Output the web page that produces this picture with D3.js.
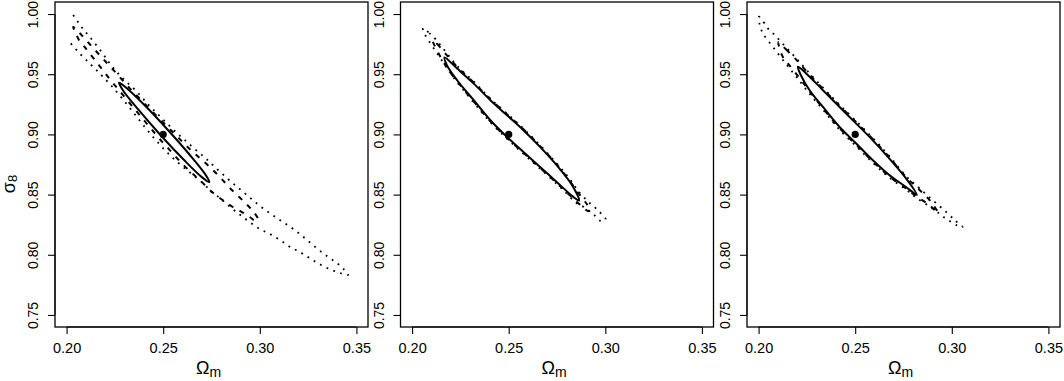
<!DOCTYPE html>
<html>
<head>
<meta charset="utf-8">
<script src="https://cdn.jsdelivr.net/npm/d3@7"></script>
<style>
  body { margin: 0; background: #fff; }
  #canvas text { font-family: "Liberation Sans", Arial, Helvetica, sans-serif; fill: #000; }
</style>
</head>
<body>
<div id="canvas"></div>
<script>
var xTicks = [0.20, 0.25, 0.30, 0.35];
var yTicks = [0.75, 0.80, 0.85, 0.90, 0.95, 1.00];
var fiducial = [0.25, 0.90]; // [Omega_m, sigma_8]

// contour outlines, [Omega_m, sigma_8]
// panel 1
var p1Solid = [
  [0.2739, 0.8603], [0.2717, 0.8670], [0.2637, 0.8831], [0.2522, 0.9041],
  [0.2403, 0.9244], [0.2310, 0.9386], [0.2271, 0.9429], [0.2294, 0.9361],
  [0.2374, 0.9201], [0.2488, 0.8991], [0.2608, 0.8787], [0.2700, 0.8645]
];
var p1Dashed = [
  [0.2034, 0.9892], [0.2067, 0.9842], [0.2119, 0.9751], [0.2171, 0.9659],
  [0.2223, 0.9568], [0.2275, 0.9477], [0.2326, 0.9385], [0.2378, 0.9298],
  [0.2430, 0.9211], [0.2482, 0.9128], [0.2534, 0.9045], [0.2585, 0.8962],
  [0.2637, 0.8879], [0.2689, 0.8804], [0.2741, 0.8729], [0.2793, 0.8646],
  [0.2845, 0.8555], [0.2896, 0.8476], [0.2938, 0.8409], [0.2969, 0.8355],
  [0.2992, 0.8289], [0.2974, 0.8285], [0.2948, 0.8314], [0.2907, 0.8355],
  [0.2860, 0.8397], [0.2807, 0.8455], [0.2750, 0.8526], [0.2689, 0.8621],
  [0.2637, 0.8696], [0.2585, 0.8779], [0.2534, 0.8870], [0.2482, 0.8962],
  [0.2430, 0.9061], [0.2378, 0.9161], [0.2326, 0.9261], [0.2275, 0.9360],
  [0.2223, 0.9460], [0.2171, 0.9568], [0.2119, 0.9674], [0.2093, 0.9728],
  [0.2067, 0.9776], [0.2047, 0.9842]
];
// this one runs off the grid at the top left, so it stays open
var p1Dotted = [
  [0.2034, 0.9992], [0.2076, 0.9895], [0.2119, 0.9811], [0.2180, 0.9687],
  [0.2223, 0.9591], [0.2266, 0.9507], [0.2309, 0.9438], [0.2361, 0.9360],
  [0.2420, 0.9252], [0.2466, 0.9178], [0.2518, 0.9095], [0.2570, 0.9012],
  [0.2611, 0.8954], [0.2663, 0.8879], [0.2715, 0.8808], [0.2751, 0.8754],
  [0.2803, 0.8677], [0.2855, 0.8602], [0.2907, 0.8532], [0.2959, 0.8461],
  [0.3016, 0.8386], [0.3073, 0.8322], [0.3130, 0.8262], [0.3192, 0.8192],
  [0.3244, 0.8123], [0.3295, 0.8054], [0.3347, 0.7990], [0.3389, 0.7943],
  [0.3430, 0.7888], [0.3457, 0.7833], [0.3415, 0.7849], [0.3363, 0.7880],
  [0.3311, 0.7921], [0.3259, 0.7971], [0.3207, 0.8023], [0.3155, 0.8067],
  [0.3104, 0.8123], [0.3052, 0.8173], [0.3000, 0.8214], [0.2938, 0.8283],
  [0.2886, 0.8347], [0.2834, 0.8414], [0.2793, 0.8472], [0.2751, 0.8522],
  [0.2710, 0.8588], [0.2648, 0.8671], [0.2585, 0.8754], [0.2523, 0.8846],
  [0.2466, 0.8945], [0.2409, 0.9053], [0.2352, 0.9169], [0.2290, 0.9294],
  [0.2233, 0.9402], [0.2180, 0.9493], [0.2128, 0.9576], [0.2067, 0.9674],
  [0.2007, 0.9784]
];

// panel 2
var p2Solid = [
  [0.2168, 0.9640], [0.2232, 0.9549], [0.2318, 0.9424], [0.2404, 0.9286],
  [0.2490, 0.9161], [0.2575, 0.9037], [0.2661, 0.8898], [0.2747, 0.8746],
  [0.2833, 0.8566], [0.2864, 0.8451], [0.2833, 0.8483], [0.2747, 0.8607],
  [0.2661, 0.8732], [0.2575, 0.8856], [0.2490, 0.8981], [0.2404, 0.9120],
  [0.2318, 0.9286], [0.2232, 0.9452], [0.2180, 0.9576]
];
var p2Dashed = [
  [0.2105, 0.9784], [0.2130, 0.9751], [0.2177, 0.9663], [0.2234, 0.9560],
  [0.2318, 0.9432], [0.2404, 0.9294], [0.2490, 0.9169], [0.2575, 0.9045],
  [0.2661, 0.8905], [0.2747, 0.8754], [0.2816, 0.8613], [0.2868, 0.8497],
  [0.2904, 0.8422], [0.2924, 0.8368], [0.2909, 0.8364], [0.2878, 0.8405],
  [0.2847, 0.8447], [0.2790, 0.8534], [0.2747, 0.8599], [0.2661, 0.8724],
  [0.2575, 0.8849], [0.2490, 0.8973], [0.2404, 0.9111], [0.2317, 0.9277],
  [0.2232, 0.9443], [0.2177, 0.9563], [0.2136, 0.9676], [0.2115, 0.9742]
];
var p2Dotted = [
  [0.2056, 0.9884], [0.2089, 0.9842], [0.2130, 0.9776], [0.2177, 0.9680],
  [0.2233, 0.9568], [0.2319, 0.9439], [0.2403, 0.9300], [0.2490, 0.9175],
  [0.2575, 0.9050], [0.2661, 0.8912], [0.2747, 0.8762], [0.2816, 0.8629],
  [0.2868, 0.8513], [0.2919, 0.8430], [0.2960, 0.8372], [0.3002, 0.8293],
  [0.2976, 0.8281], [0.2945, 0.8326], [0.2893, 0.8393], [0.2847, 0.8434],
  [0.2790, 0.8526], [0.2747, 0.8592], [0.2661, 0.8717], [0.2575, 0.8841],
  [0.2490, 0.8966], [0.2404, 0.9103], [0.2317, 0.9269], [0.2232, 0.9435],
  [0.2177, 0.9560], [0.2125, 0.9684], [0.2084, 0.9784], [0.2063, 0.9842]
];

// panel 3
var p3Solid = [
  [0.2203, 0.9562], [0.2246, 0.9507], [0.2332, 0.9369], [0.2418, 0.9230],
  [0.2504, 0.9092], [0.2590, 0.8953], [0.2676, 0.8801], [0.2763, 0.8635],
  [0.2819, 0.8498], [0.2763, 0.8563], [0.2676, 0.8663], [0.2590, 0.8787],
  [0.2504, 0.8926], [0.2418, 0.9064], [0.2332, 0.9230], [0.2263, 0.9369],
  [0.2217, 0.9498]
];
var p3Dashed = [
  [0.2103, 0.9767], [0.2143, 0.9705], [0.2204, 0.9605], [0.2246, 0.9527],
  [0.2332, 0.9380], [0.2418, 0.9240], [0.2504, 0.9103], [0.2590, 0.8963],
  [0.2676, 0.8812], [0.2763, 0.8646], [0.2831, 0.8542], [0.2892, 0.8441],
  [0.2929, 0.8347], [0.2883, 0.8414], [0.2814, 0.8488], [0.2763, 0.8552],
  [0.2676, 0.8652], [0.2590, 0.8777], [0.2504, 0.8915], [0.2418, 0.9053],
  [0.2332, 0.9219], [0.2263, 0.9360], [0.2212, 0.9468], [0.2151, 0.9591],
  [0.2125, 0.9645]
];
var p3Dotted = [
  [0.2002, 0.9978], [0.2026, 0.9934], [0.2048, 0.9881], [0.2083, 0.9826],
  [0.2117, 0.9767], [0.2156, 0.9699], [0.2196, 0.9630], [0.2246, 0.9539],
  [0.2332, 0.9390], [0.2418, 0.9248], [0.2504, 0.9111], [0.2590, 0.8972],
  [0.2676, 0.8821], [0.2763, 0.8654], [0.2831, 0.8555], [0.2900, 0.8455],
  [0.2969, 0.8358], [0.3021, 0.8279], [0.3056, 0.8231], [0.3029, 0.8243],
  [0.2969, 0.8301], [0.2900, 0.8385], [0.2814, 0.8476], [0.2763, 0.8542],
  [0.2676, 0.8642], [0.2590, 0.8767], [0.2504, 0.8904], [0.2418, 0.9041],
  [0.2332, 0.9207], [0.2255, 0.9355], [0.2195, 0.9479], [0.2139, 0.9591],
  [0.2074, 0.9728], [0.2022, 0.9840], [0.2005, 0.9917]
];

var panels = [
  { left: 55,    solid: p1Solid, dashed: p1Dashed, dotted: p1Dotted, openDotted: true },
  { left: 400.5, solid: p2Solid, dashed: p2Dashed, dotted: p2Dotted, openDotted: false },
  { left: 747,   solid: p3Solid, dashed: p3Dashed, dotted: p3Dotted, openDotted: false }
];

(function () {
  var width = 1064;
  var height = 381;
  var boxW = 313;
  var boxTop = 2;
  var boxBottom = 327;
  var tickLen = 7;

  var svg = d3.select('#canvas').append('svg')
        .attr('width', width)
        .attr('height', height)
        .style('display', 'block');

  svg.append('rect')
    .attr('width', width)
    .attr('height', height)
    .attr('fill', '#fff');

  panels.forEach(function (p, i) {
    var x = d3.scaleLinear()
          .domain([0.194, 0.356])
          .range([p.left, p.left + boxW]);
    var y = d3.scaleLinear()
          .domain([0.74, 1.01])
          .range([boxBottom, boxTop]);

    var g = svg.append('g').attr('class', 'panel');

    var closedLine = d3.line()
          .x(function (d) { return x(d[0]); })
          .y(function (d) { return y(d[1]); })
          .curve(d3.curveCatmullRomClosed.alpha(0.5));
    var openLine = d3.line()
          .x(function (d) { return x(d[0]); })
          .y(function (d) { return y(d[1]); })
          .curve(d3.curveCatmullRom.alpha(0.5));

    // dotted (outermost) contour
    g.append('path')
      .attr('d', (p.openDotted ? openLine : closedLine)(p.dotted))
      .attr('fill', 'none')
      .attr('stroke', '#000')
      .attr('stroke-width', 1.8)
      .attr('stroke-dasharray', '1.8,5.5');

    // dashed contour
    g.append('path')
      .attr('d', closedLine(p.dashed))
      .attr('fill', 'none')
      .attr('stroke', '#000')
      .attr('stroke-width', 2)
      .attr('stroke-dasharray', '5,7');

    // solid contour
    g.append('path')
      .attr('d', closedLine(p.solid))
      .attr('fill', 'none')
      .attr('stroke', '#000')
      .attr('stroke-width', 2);

    g.append('circle')
      .attr('cx', x(fiducial[0]))
      .attr('cy', y(fiducial[1]))
      .attr('r', 3.6)
      .attr('fill', '#000');

    // box
    g.append('rect')
      .attr('x', p.left)
      .attr('y', boxTop)
      .attr('width', boxW)
      .attr('height', boxBottom - boxTop)
      .attr('fill', 'none')
      .attr('stroke', '#000')
      .attr('stroke-width', 1.3);

    var xAxis = g.append('g')
          .attr('transform', 'translate(0,' + boxBottom + ')')
          .call(d3.axisBottom(x)
                .tickValues(xTicks)
                .tickSize(tickLen)
                .tickPadding(9)
                .tickFormat(d3.format('.2f')));
    xAxis.select('.domain')
      .attr('d', 'M' + x(xTicks[0]) + ',0H' + x(xTicks[xTicks.length - 1]));
    xAxis.selectAll('text')
      .style('font-size', '14.5px');

    var yAxis = g.append('g')
          .attr('transform', 'translate(' + p.left + ',0)')
          .call(d3.axisLeft(y)
                .tickValues(yTicks)
                .tickSize(tickLen)
                .tickFormat(d3.format('.2f')));
    yAxis.select('.domain')
      .attr('d', 'M0,' + y(yTicks[0]) + 'V' + y(yTicks[yTicks.length - 1]));
    yAxis.selectAll('text')
      .attr('transform', 'rotate(-90)')
      .attr('x', 0)
      .attr('y', -17)
      .attr('dy', 0)
      .attr('text-anchor', 'middle')
      .style('font-size', '14px');

    g.selectAll('.tick line').attr('stroke-width', 1.1);

    // Omega_m label
    var xl = g.append('text')
          .attr('x', (p.left + boxW / 2) - 3)
          .attr('y', 373.5)
          .attr('text-anchor', 'middle')
          .style('font-size', '18px');
    xl.append('tspan').text('\u03A9');
    xl.append('tspan').attr('dy', 3).style('font-size', '14px').text('m');

    if (i === 0) {
      var yl = svg.append('text')
            .attr('transform', 'translate(15,184) rotate(-90)')
            .attr('text-anchor', 'middle')
            .style('font-size', '18px');
      yl.append('tspan').text('\u03C3');
      yl.append('tspan').attr('dy', 2).style('font-size', '13px').text('8');
    }
  });
})();
</script>
</body>
</html>
